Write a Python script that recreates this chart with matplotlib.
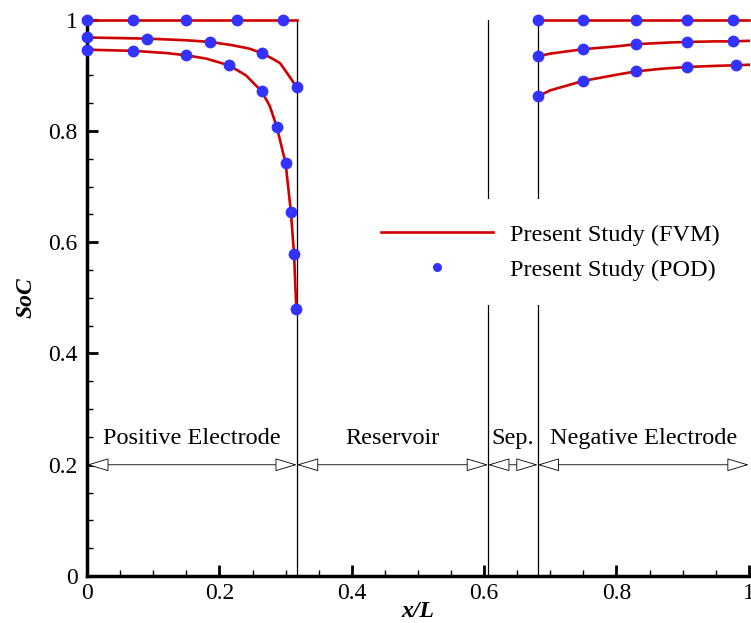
import matplotlib
matplotlib.use("Agg")
import matplotlib.pyplot as plt
from matplotlib.ticker import MultipleLocator

# region boundaries (x/L)
bounds = [0.0, 0.317, 0.606, 0.681, 1.0]
region_names = ["Positive Electrode", "Reservoir", "Sep.", "Negative Electrode"]

tick_vals = [0, 0.2, 0.4, 0.6, 0.8, 1.0]
tick_labels = ["0", "0.2", "0.4", "0.6", "0.8", "1"]

# FVM lines, positive electrode
pos_x1 = [0.0, 0.1, 0.2, 0.317]
pos_y1 = [1.0, 1.0, 1.0, 1.0]
pos_x2 = [0.0, 0.09, 0.15, 0.186, 0.22, 0.245, 0.264, 0.28, 0.2915, 0.304, 0.317]
pos_y2 = [0.968, 0.966, 0.963, 0.960, 0.954, 0.948, 0.940, 0.930, 0.922, 0.901, 0.878]
pos_x3 = [0.0, 0.07, 0.12, 0.15, 0.18, 0.2145, 0.24, 0.264, 0.276, 0.2865, 0.3, 0.308, 0.3127, 0.3162]
pos_y3 = [0.946, 0.944, 0.940, 0.936, 0.930, 0.918, 0.900, 0.871, 0.845, 0.808, 0.742, 0.654, 0.579, 0.480]

# FVM lines, negative electrode
neg_x1 = [0.681, 0.8, 0.9, 1.0]
neg_y1 = [1.0, 1.0, 1.0, 1.0]
neg_x2 = [0.681, 0.70, 0.75, 0.80, 0.83, 0.88, 0.907, 0.95, 0.976, 1.0]
neg_y2 = [0.934, 0.939, 0.947, 0.952, 0.956, 0.959, 0.960, 0.961, 0.961, 0.962]
neg_x3 = [0.681, 0.70, 0.75, 0.80, 0.829, 0.87, 0.907, 0.95, 0.980, 1.0]
neg_y3 = [0.862, 0.873, 0.890, 0.901, 0.907, 0.912, 0.915, 0.917, 0.918, 0.919]

# POD points
pod_x = [0.0, 0.07, 0.1495, 0.2266, 0.2966,
         0.0, 0.091, 0.186, 0.2639, 0.317,
         0.0, 0.07, 0.1495, 0.2145, 0.264, 0.2865, 0.300, 0.308, 0.3127, 0.3162,
         0.681, 0.7497, 0.829, 0.907, 0.976,
         0.681, 0.7497, 0.829, 0.907, 0.976,
         0.681, 0.7497, 0.829, 0.907, 0.9804]
pod_y = [1.0, 1.0, 1.0, 1.0, 1.0,
         0.968, 0.966, 0.960, 0.940, 0.879,
         0.946, 0.944, 0.936, 0.9185, 0.871, 0.808, 0.742, 0.654, 0.579, 0.480,
         1.0, 1.0, 1.0, 1.0, 1.0,
         0.934, 0.947, 0.956, 0.960, 0.961,
         0.862, 0.890, 0.907, 0.915, 0.918]

plt.rcParams["font.family"] = ["Liberation Serif", "DejaVu Serif"]
plt.rcParams["font.size"] = 17

fig = plt.figure(figsize=(7.51, 6.23), dpi=100)
ax = fig.add_axes([0.116, 0.0754, 0.881, 0.893])

red = "#d00000"
blue = "#3333ff"

for xs, ys in [(pos_x1, pos_y1), (pos_x2, pos_y2), (pos_x3, pos_y3),
               (neg_x1, neg_y1), (neg_x2, neg_y2), (neg_x3, neg_y3)]:
    ax.plot(xs, ys, color=red, lw=1.9, zorder=3, clip_on=False)
ax.plot([], [], color=red, lw=1.9, label="Present Study (FVM)")

ax.plot(pod_x, pod_y, "o", color=blue, ms=8.5, mec="none", zorder=4, clip_on=False)
ax.plot([], [], "o", color=blue, ms=6.5, mec="none", label="Present Study (POD)")

for b in bounds[1:-1]:
    ax.axvline(b, color="black", lw=0.9, zorder=1)

# region arrows and labels
for i, name in enumerate(region_names):
    x0, x1 = bounds[i], bounds[i + 1]
    ax.annotate("", xy=(x1, 0.2), xytext=(x0, 0.2),
                arrowprops=dict(arrowstyle="<|-|>,head_length=1.4,head_width=0.42",
                                mutation_scale=10, fc="white", ec="black", lw=0.6,
                                shrinkA=0, shrinkB=0))
    ax.text((x0 + x1) / 2, 0.247, name, ha="center", va="center", fontsize=17.5)

leg = ax.legend(loc="center", bbox_to_anchor=(0.70, 0.582), fontsize=17.5,
                handlelength=4.6, handletextpad=0.7, labelspacing=0.55,
                frameon=True, facecolor="white", edgecolor="none", framealpha=1,
                borderpad=1.0)
leg.set_zorder(5)

ax.set_xlim(0, 1)
ax.set_ylim(0, 1)
ax.set_xticks(tick_vals, tick_labels)
ax.set_yticks(tick_vals, tick_labels)
ax.xaxis.set_minor_locator(MultipleLocator(0.05))
ax.yaxis.set_minor_locator(MultipleLocator(0.05))
ax.tick_params(which="major", direction="in", length=8, width=2)
ax.tick_params(which="minor", direction="in", length=4.5, width=1)
ax.tick_params(axis="x", pad=5)
ax.tick_params(axis="y", pad=7)

for s in ["top", "right"]:
    ax.spines[s].set_visible(False)
for s in ["left", "bottom"]:
    ax.spines[s].set_linewidth(2.5)

ax.set_xlabel("x/L", fontsize=17, fontweight="bold", style="italic", labelpad=-2)
ax.set_ylabel("SoC", fontsize=17, fontweight="bold", style="italic", labelpad=8)

fig.savefig("out.png", dpi=100)
